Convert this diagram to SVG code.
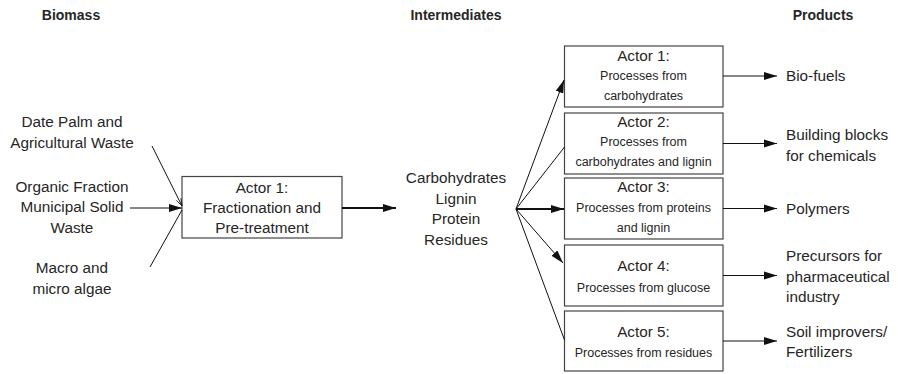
<svg xmlns="http://www.w3.org/2000/svg" width="898" height="374" viewBox="0 0 898 374">
<defs>
<marker id="ah" markerUnits="userSpaceOnUse" markerWidth="14" markerHeight="10" viewBox="0 0 14 10" refX="13" refY="5" orient="auto">
<path d="M0,1 L13,5 L0,9 Z" fill="#111"/>
</marker>
<marker id="ahs" markerUnits="userSpaceOnUse" markerWidth="8" markerHeight="6" viewBox="0 0 8 6" refX="7.5" refY="3" orient="auto">
<path d="M0,0.5 L7.5,3 L0,5.5" fill="none" stroke="#111" stroke-width="0.8"/>
</marker>
<style>
text{font-family:"Liberation Sans",Arial,sans-serif;fill:#262626;text-anchor:middle}
.h{font-weight:bold;font-size:14px}
.t{font-size:15.3px}
.s{font-size:12.5px}
.l{text-anchor:start}
.box{fill:#fff;stroke:#444;stroke-width:1.2}
.c{stroke:#111;fill:none;stroke-width:1}
.c2{stroke:#111;fill:none;stroke-width:2}
</style>
</defs>
<rect width="898" height="374" fill="#fff"/>
<g id="headers">
<text class="h" x="71" y="20">Biomass</text>
<text class="h" x="456" y="20">Intermediates</text>
<text class="h" x="823" y="20">Products</text>
</g>
<g id="biomass-sources">
<text class="t" x="72" y="127">Date Palm and</text>
<text class="t" x="72" y="148">Agricultural Waste</text>
<text class="t" x="72" y="192">Organic Fraction</text>
<text class="t" x="72" y="212">Municipal Solid</text>
<text class="t" x="72" y="233">Waste</text>
<text class="t" x="72" y="273">Macro and</text>
<text class="t" x="72" y="294">micro algae</text>
</g>
<g id="actor1-fractionation">
<rect class="box" x="182" y="176.5" width="160" height="61.5"/>
<text class="t" x="262" y="193">Actor 1:</text>
<text class="t" x="262" y="213">Fractionation and</text>
<text class="t" x="262" y="233">Pre-treatment</text>
</g>
<g id="intermediates">
<text class="t" x="456" y="183">Carbohydrates</text>
<text class="t" x="456" y="204">Lignin</text>
<text class="t" x="456" y="224">Protein</text>
<text class="t" x="456" y="245">Residues</text>
</g>
<g id="actor1-carbohydrates">
<rect class="box" x="564.5" y="46" width="158.5" height="61"/>
<text class="t" x="643.5" y="61">Actor 1:</text>
<text class="s" x="643.5" y="80">Processes from</text>
<text class="s" x="643.5" y="100">carbohydrates</text>
</g>
<g id="actor2-carbohydrates-lignin">
<rect class="box" x="564.5" y="113" width="158.5" height="61"/>
<text class="t" x="643.5" y="127">Actor 2:</text>
<text class="s" x="643.5" y="146">Processes from</text>
<text class="s" x="643.5" y="166">carbohydrates and lignin</text>
</g>
<g id="actor3-proteins-lignin">
<rect class="box" x="564.5" y="178" width="158.5" height="61"/>
<text class="t" x="643.5" y="192">Actor 3:</text>
<text class="s" x="643.5" y="212">Processes from proteins</text>
<text class="s" x="643.5" y="232">and lignin</text>
</g>
<g id="actor4-glucose">
<rect class="box" x="564.5" y="245" width="158.5" height="61"/>
<text class="t" x="643.5" y="271">Actor 4:</text>
<text class="s" x="643.5" y="292">Processes from glucose</text>
</g>
<g id="actor5-residues">
<rect class="box" x="564.5" y="311" width="158.5" height="60"/>
<text class="t" x="643.5" y="337">Actor 5:</text>
<text class="s" x="643.5" y="357">Processes from residues</text>
</g>
<g id="products">
<text class="t l" x="786" y="81">Bio-fuels</text>
<text class="t l" x="786" y="140">Building blocks</text>
<text class="t l" x="786" y="161">for chemicals</text>
<text class="t l" x="786" y="214">Polymers</text>
<text class="t l" x="786" y="261">Precursors for</text>
<text class="t l" x="786" y="282">pharmaceutical</text>
<text class="t l" x="786" y="302">industry</text>
<text class="t l" x="786" y="337">Soil improvers/</text>
<text class="t l" x="786" y="357">Fertilizers</text>
</g>
<g id="connectors">
<line class="c" x1="152" y1="146" x2="182" y2="206" marker-end="url(#ahs)"/>
<line class="c" x1="130" y1="208" x2="182" y2="208" marker-end="url(#ah)"/>
<line class="c" x1="150" y1="267" x2="182" y2="210"/>
<line class="c2" x1="342" y1="208" x2="396" y2="208" marker-end="url(#ah)"/>
<line class="c" x1="516" y1="209" x2="564" y2="80" marker-end="url(#ah)"/>
<line class="c" x1="516" y1="209" x2="564.5" y2="147"/>
<line class="c2" x1="516" y1="209" x2="564" y2="209" marker-end="url(#ah)"/>
<line class="c" x1="516" y1="209" x2="563" y2="263" marker-end="url(#ah)"/>
<line class="c" x1="516" y1="209" x2="564.5" y2="340"/>
<line class="c" x1="723" y1="76" x2="777" y2="76" marker-end="url(#ah)"/>
<line class="c" x1="723" y1="143.5" x2="777" y2="143.5" marker-end="url(#ah)"/>
<line class="c" x1="723" y1="208.5" x2="777" y2="208.5" marker-end="url(#ah)"/>
<line class="c" x1="723" y1="275.5" x2="777" y2="275.5" marker-end="url(#ah)"/>
<line class="c" x1="723" y1="341" x2="777" y2="341" marker-end="url(#ah)"/>
</g>
</svg>
